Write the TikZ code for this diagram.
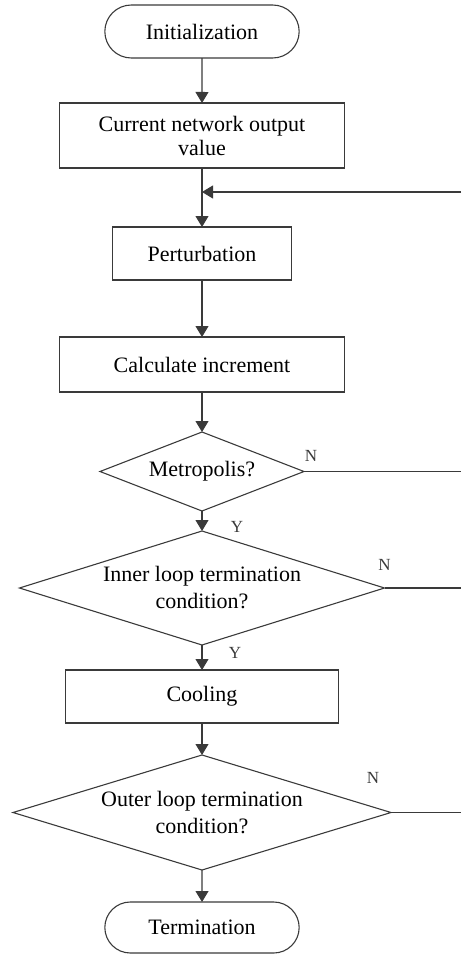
\documentclass[tikz,border=0pt]{standalone}
\usepackage{fontspec}
\setmainfont{Liberation Serif}
\usetikzlibrary{positioning}
\usetikzlibrary{arrows.meta,shapes.geometric,shapes.misc}
\definecolor{edgegray}{HTML}{3A3A3A}

\begin{document}
\begin{tikzpicture}
    [x=1pt, y=1pt,
    every node/.style={outer sep=0pt},
    post/.style={-{Triangle[width=13pt,length=11pt]},
    	         edgegray,
    	         line width=1.1pt},
    line/.style={edgegray,
    	         line width=1.1pt},
    box/.style={rectangle,
    	        draw=edgegray,
    	        line width=1.1pt,
    	        inner sep=1mm,
    	        align=center,
    	        font=\fontsize{22}{24}\selectfont},
    term/.style={rounded rectangle,
    	         draw=edgegray,
    	         line width=1.1pt,
    	         minimum width=201pt,
    	         minimum height=53pt,
    	         font=\fontsize{22}{24}\selectfont},
    decide/.style={diamond,
    	           draw=edgegray,
    	           line width=1.1pt,
    	           inner sep=0pt,
    	           shape aspect=3.3,
    	           align=center,
    	           font=\fontsize{22}{27}\selectfont},
    branchlabel/.style={font=\fontsize{17}{17}\selectfont}]
    \useasboundingbox (0,0) rectangle (461,-955);
    \node [term] (init) at (202,-31.5) {Initialization};
    \node [box,
           minimum width=285pt,
           minimum height=65pt,
           below=45pt of init] (current) {Current network output\\value};
    \node [box,
           minimum width=179pt,
           minimum height=53pt,
           below=59pt of current] (perturb) {Perturbation};
    \node [box,
           minimum width=285pt,
           minimum height=55pt,
           below=57pt of perturb] (calc) {Calculate increment};
    \node [decide,
           minimum width=204pt,
           minimum height=79pt,
           below=40pt of calc] (metro) {Metropolis?};
    \node [decide,
           minimum width=365pt,
           minimum height=114pt,
           below=20pt of metro] (inner) {Inner loop termination\\condition?};
    \node [box,
           minimum width=273pt,
           minimum height=53pt,
           below=25pt of inner] (cool) {Cooling};
    \node [decide,
           minimum width=378pt,
           minimum height=115pt,
           below=32pt of cool] (outer) {Outer loop termination\\condition?};
    \node [term,
           minimum height=51pt,
           below=32pt of outer] (end) {Termination};
    \coordinate (loopin) at (461,-192);
    \coordinate (rim) at (461,0);
    \draw[post] (init) -- (current);
    \draw[post] (current) -- (perturb);
    \draw[post] (loopin) -- (loopin -| current.south);
    \draw[post] (perturb) -- (calc);
    \draw[post] (calc) -- (metro);
    \draw[post] (metro) -- (inner)
        node [branchlabel, pos=0.8, xshift=35pt] {Y};
    \draw[post] (inner) -- (cool)
        node [branchlabel, pos=0.3, xshift=33pt] {Y};
    \draw[post] (cool) -- (outer);
    \draw[post] (outer) -- (end);
    \draw[line] (metro.east) -- (metro.east -| rim)
        node [branchlabel, pos=0, xshift=7pt, yshift=16pt] {N};
    \draw[line] (inner.east) -- (inner.east -| rim)
        node [branchlabel, pos=0, yshift=23pt] {N};
    \draw[line] (outer.east) -- (outer.east -| rim)
        node [branchlabel, pos=0, xshift=-18pt, yshift=35pt] {N};
\end{tikzpicture}
\end{document}
